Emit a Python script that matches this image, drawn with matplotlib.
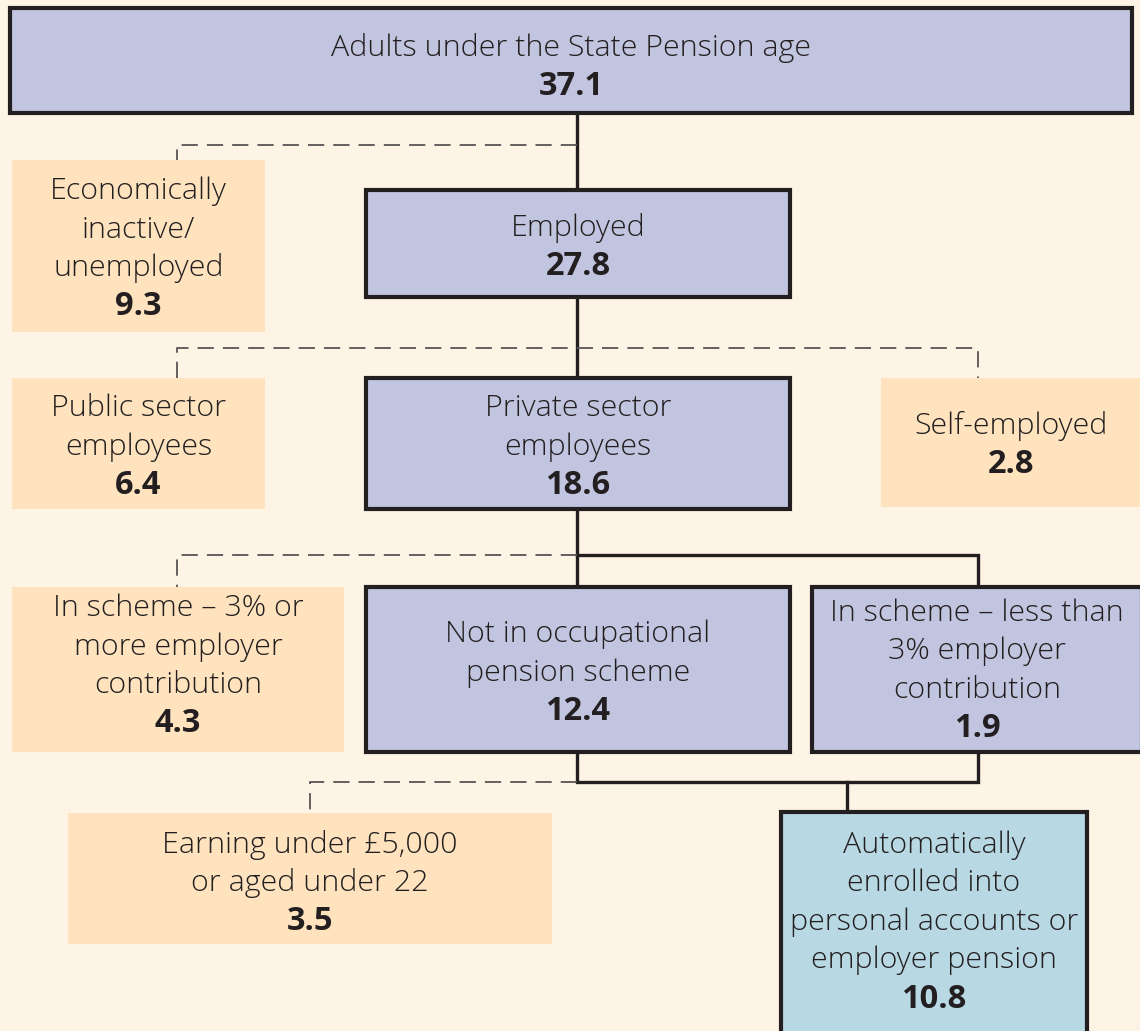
import matplotlib
matplotlib.use("Agg")
import matplotlib.pyplot as plt
from matplotlib.patches import Rectangle

# ---- data ----
labels = [
    "Adults under the State Pension age",
    "Economically\ninactive/\nunemployed",
    "Employed",
    "Public sector\nemployees",
    "Private sector\nemployees",
    "Self-employed",
    "In scheme \u2013 3% or\nmore employer\ncontribution",
    "Not in occupational\npension scheme",
    "In scheme \u2013 less than\n3% employer\ncontribution",
    "Earning under \u00a35,000\nor aged under 22",
    "Automatically\nenrolled into\npersonal accounts or\nemployer pension",
]
values = ["37.1", "9.3", "27.8", "6.4", "18.6", "2.8", "4.3", "12.4", "1.9", "3.5", "10.8"]
kinds = ["main", "side", "main", "side", "main", "side", "side", "main", "main", "side", "auto"]

# ---- layout (pixel coords) ----
boxes = [  # x0, y0, x1, y1
    (10, 8, 1132, 113),
    (12, 160, 265, 332),
    (366, 190, 790, 297),
    (12, 378, 265, 509),
    (366, 378, 790, 509),
    (881, 378, 1142, 507),
    (12, 587, 344, 752),
    (366, 587, 790, 752),
    (812, 587, 1142, 752),
    (68, 813, 552, 944),
    (781, 812, 1087, 1040),
]
text_center = [67, 249, 247, 447, 447, 445, 666, 673, 671, 883, 922]

fills = {"main": "#C2C5E0", "side": "#FEE3BE", "auto": "#B8D8E4"}
bg = "#FEF4E5"
ink = "#231F20"
dash_col = "#5A5355"

W, H = 1140, 1031
fig = plt.figure(figsize=(W / 100, H / 100), dpi=100, facecolor=bg)
ax = fig.add_axes([0, 0, 1, 1])
ax.set_xlim(0, W)
ax.set_ylim(H, 0)
ax.axis("off")
ax.set_facecolor(bg)

font = "Open Sans"
fs = 21.9
fs_val = 23.5
line_h = 38.5

for (x0, y0, x1, y1), lab, val, kind, cy in zip(boxes, labels, values, kinds, text_center):
    bordered = kind != "side"
    ax.add_patch(Rectangle((x0, y0), x1 - x0, y1 - y0, facecolor=fills[kind],
                           edgecolor=ink if bordered else "none",
                           linewidth=3.0 if bordered else 0, zorder=2))
    lines = lab.split("\n") + [val]
    n = len(lines)
    xc = (x0 + x1) / 2
    for i, t in enumerate(lines):
        y = cy + (i - (n - 1) / 2) * line_h
        last = i == n - 1
        ax.text(xc, y, t, ha="center", va="center",
                fontsize=fs_val if last else fs,
                fontweight="bold" if last else "light",
                family=font, color=ink, zorder=3)

def solid(xs, ys):
    ax.plot(xs, ys, color=ink, lw=2.4, solid_joinstyle="miter", zorder=1)

def dashed(xs, ys):
    ax.plot(xs, ys, color=dash_col, lw=1.3, dashes=(9, 5), zorder=1)

# solid connectors
solid([577, 577], [113, 190])
solid([577, 577], [297, 378])
solid([577, 577], [509, 587])
solid([577, 978, 978], [555, 555, 587])
solid([577, 577, 978, 978], [752, 782, 782, 752])
solid([847, 847], [782, 812])

# dashed connectors
dashed([577, 177, 177], [145, 145, 160])
dashed([177, 177, 978, 978], [378, 348, 348, 378])
dashed([577, 177, 177], [555, 555, 587])
dashed([577, 310, 310], [782, 782, 813])

fig.savefig("out.png", dpi=100, facecolor=bg)
